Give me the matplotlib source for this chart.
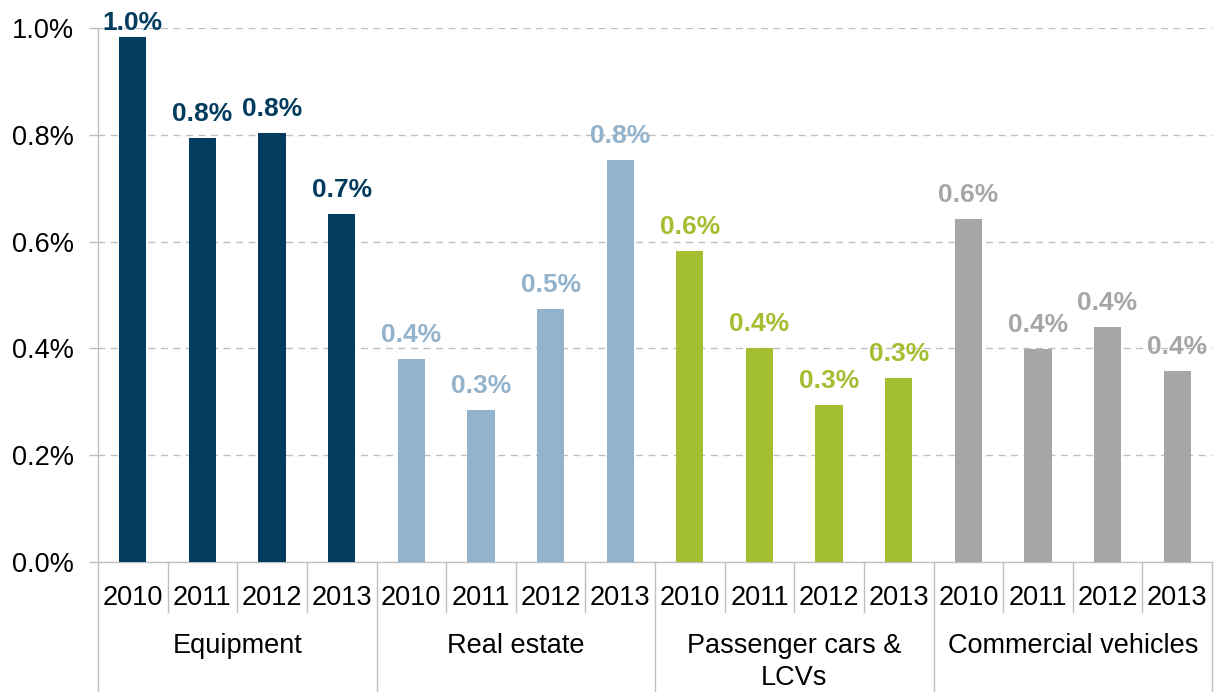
import matplotlib
matplotlib.use('Agg')
import matplotlib.pyplot as plt
import matplotlib.transforms as mtransforms

plt.rcParams['font.family'] = ['Liberation Sans', 'DejaVu Sans']

groups = ['Equipment', 'Real estate', 'Passenger cars &\nLCVs', 'Commercial vehicles']
years = ['2010', '2011', '2012', '2013']
equipment = [0.983, 0.794, 0.803, 0.652]
real_estate = [0.380, 0.285, 0.474, 0.753]
passenger = [0.582, 0.400, 0.294, 0.345]
commercial = [0.642, 0.399, 0.440, 0.358]
colors = ['#023C5E', '#93B2CB', '#A3BE31', '#A6A6A6']

series = [equipment, real_estate, passenger, commercial]
GRID = '#BFBFBF'
FS = 19.5

fig = plt.figure(figsize=(12.2, 6.92), dpi=100)
ax = fig.add_axes([98 / 1220, 1 - 562 / 692, 1114 / 1220, 534 / 692])

n = len(years)
for g, (vals, col) in enumerate(zip(series, colors)):
    xs = [g * n + i for i in range(n)]
    ax.bar(xs, vals, width=0.39, color=col, zorder=3)
    for x, v in zip(xs, vals):
        ax.text(x, min(v + 0.032, 0.996), f'{v:.1f}%', ha='center', va='baseline',
                fontsize=19, fontweight='bold', color=col, zorder=4)

ax.set_xlim(-0.5, len(groups) * n - 0.5)
ax.set_ylim(0, 1.0)
ax.set_yticks([0, 0.2, 0.4, 0.6, 0.8, 1.0])
ax.set_yticklabels([f'{t:.1f}%' for t in ax.get_yticks()], fontsize=FS)
ax.tick_params(axis='y', length=6.5, width=1, color=GRID, pad=11)
ax.set_xticks([])

for t in [0.2, 0.4, 0.6, 0.8, 1.0]:
    ax.axhline(t, color=GRID, lw=1, ls=(0, (5, 4)), zorder=1)

for s in ['top', 'right']:
    ax.spines[s].set_visible(False)
for s in ['left', 'bottom']:
    ax.spines[s].set_color(GRID)
    ax.spines[s].set_linewidth(1)

# category axis: years and group boxes below the plot
trans = mtransforms.blended_transform_factory(ax.transData, ax.transAxes)
total = len(groups) * n
for k in range(total + 1):
    x = k - 0.5
    bottom = -0.2434 if k % n == 0 else -0.0936
    ax.plot([x, x], [0, bottom], color=GRID, lw=1, transform=trans, clip_on=False)

for k in range(total):
    ax.text(k, -0.0805, years[k % n], ha='center', va='baseline', fontsize=FS,
            transform=trans, color='#000000')

for g, name in enumerate(groups):
    xc = g * n + (n - 1) / 2
    for j, line in enumerate(name.split('\n')):
        ax.text(xc, -0.1704 - 0.06 * j, line, ha='center', va='baseline',
                fontsize=FS, transform=trans)

fig.savefig('out.png', dpi=100)
